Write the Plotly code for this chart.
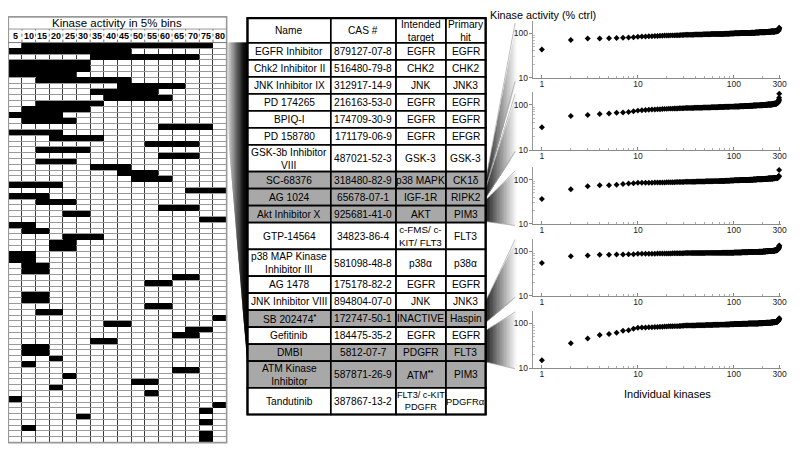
import plotly.graph_objects as go

# The page puts the figure 8 px in from the top-left corner, so the figure is
# sized to the remaining window and reference pixel positions are shifted by 8 px.
OFF = 8
W, H = 800 - OFF, 455 - OFF

# ---------------- data ----------------
bin_labels = [5, 10, 15, 20, 25, 30, 35, 40, 45, 50, 55, 60, 65, 70, 75, 80]
# first / last 5% bin that is filled (black) for each compound row of the heat map
row_first_bin = [10, 5, 35, 5, 5, 5, 15, 45, 35, 40, 15, 10, 5, 10, 60, 5, 20, 55, 15, 60,
                 15, 35, 45, 50, 5, 70, 5, 15, 60, 25, 75, 5, 10, 25, 20, 20, 5, 5, 10, 10,
                 65, 55, None, 10, 10, 55, 15, 80, 40, 70, 65, 35, 10, 10, 20, 10, 65, 25, 50, 20,
                 55, 5, 80, 75, 30, 75, 10, 75, 75]
row_last_bin = [75, 45, 70, 30, 30, 25, 45, 65, 55, 60, 35, 30, 20, 25, 75, 20, 35, 70, 30, 70,
                25, 45, 55, 60, 20, 80, 15, 25, 70, 30, 80, 10, 15, 35, 25, 25, 10, 10, 15, 15,
                70, 60, None, 15, 15, 60, 20, 80, 45, 75, 70, 40, 15, 15, 20, 10, 70, 25, 55, 20,
                55, 5, 80, 75, 30, 75, 10, 75, 75]

tbl_header = ["Name", "CAS #", "Intended<br>target", "Primary<br>hit"]
names = ["EGFR Inhibitor", "Chk2 Inhibitor II", "JNK Inhibitor IX", "PD 174265", "BPIQ-I",
         "PD 158780", "GSK-3b Inhibitor<br>VIII", "SC-68376", "AG 1024", "Akt Inhibitor X",
         "GTP-14564", "p38 MAP Kinase<br>Inhibitor III", "AG 1478", "JNK Inhibitor VIII",
         "SB 202474<sup><b>*</b></sup>", "Gefitinib", "DMBI", "ATM Kinase<br>Inhibitor", "Tandutinib"]
cas_numbers = ["879127-07-8", "516480-79-8", "312917-14-9", "216163-53-0", "174709-30-9",
               "171179-06-9", "487021-52-3", "318480-82-9", "65678-07-1", "925681-41-0",
               "34823-86-4", "581098-48-8", "175178-82-2", "894804-07-0", "172747-50-1",
               "184475-35-2", "5812-07-7", "587871-26-9", "387867-13-2"]
intended_targets = ["EGFR", "CHK2", "JNK", "EGFR", "EGFR", "EGFR", "GSK-3", "p38 MAPK", "IGF-1R",
                    "AKT", "c-FMS/ c-<br>KIT/ FLT3", "p38α", "EGFR", "JNK", "INACTIVE", "EGFR",
                    "PDGFR", "ATM<sup><b>**</b></sup>", "FLT3/ c-KIT<br>PDGFR"]
primary_hits = ["EGFR", "CHK2", "JNK3", "EGFR", "EGFR", "EFGR", "GSK-3", "CK1δ", "RIPK2", "PIM3",
                "FLT3", "p38α", "EGFR", "JNK3", "Haspin", "EGFR", "FLT3", "PIM3", "PDGFRα"]
highlighted = [False, False, False, False, False, False, False, True, True, True,
               False, False, False, False, True, False, True, True, False]

# ranked kinase activity (% ctrl) per profiled compound: first ten ranks, then (value, count) runs
p1_head = [43, 70, 76, 76, 77, 78, 79, 80, 81, 83]
p1_runs = [(84, 2), (85, 2), (86, 2), (87, 2), (88, 3), (89, 3), (90, 3), (91, 3),
           (92, 8), (93, 9), (94, 10), (95, 11), (96, 11), (97, 11), (98, 10),
           (99, 16), (100, 17), (101, 17), (102, 17), (103, 17), (104, 16),
           (105, 14), (106, 14), (107, 14), (108, 14), (109, 12), (110, 12),
           (111, 3), (112, 3), (113, 2), (114, 2), (116, 2), (119, 1), (122, 1), (125, 1), (128, 1), (131, 1)]
p2_head = [32, 57, 60, 63, 65, 67, 68, 70, 73, 75]
p2_runs = [(76, 1), (77, 1), (78, 1), (79, 2), (80, 2), (81, 1), (82, 2), (83, 3), (84, 3), (85, 4),
           (86, 8), (87, 9), (88, 10), (89, 11), (90, 11), (91, 11), (92, 10),
           (93, 14), (94, 14), (95, 15), (96, 15), (97, 14), (98, 14), (99, 14),
           (100, 12), (101, 12), (102, 12), (103, 11), (104, 11), (106, 11), (108, 11),
           (110, 3), (112, 3), (114, 2), (117, 2), (120, 2), (124, 1), (127, 1), (132, 1), (145, 1), (177, 1)]
p3_head = [36, 60, 70, 74, 74, 76, 79, 81, 82, 84]
p3_runs = [(85, 4), (86, 5), (87, 5), (88, 6),
           (89, 10), (90, 10), (91, 10), (92, 10), (93, 10), (94, 10), (95, 10),
           (96, 15), (97, 15), (98, 14), (99, 14), (100, 14), (101, 14), (102, 14),
           (103, 14), (104, 14), (105, 13), (106, 13), (107, 13), (108, 13),
           (109, 3), (110, 3), (111, 2), (113, 2), (115, 2), (118, 2), (121, 1), (165, 1), (198, 1)]
p4_head = [55, 78, 81, 84, 84, 85, 85, 87, 87, 89]
p4_runs = [(89, 5), (90, 7), (91, 8), (92, 20), (93, 25), (94, 25),
           (95, 20), (96, 20), (97, 20), (98, 20), (99, 20),
           (100, 14), (101, 14), (102, 13), (103, 13), (104, 13), (106, 13),
           (108, 3), (110, 3), (112, 2), (115, 2), (118, 2), (122, 2), (127, 1), (132, 1), (137, 1)]
p5_head = [15, 36, 46, 55, 58, 62, 69, 70, 76, 80]
p5_runs = [(81, 2), (82, 2), (83, 2), (84, 2), (85, 2), (86, 3), (87, 3), (88, 2), (89, 2),
           (90, 10), (91, 10), (92, 10), (93, 10), (94, 10), (95, 10), (96, 10),
           (97, 20), (98, 20), (99, 20), (100, 20), (101, 20),
           (102, 14), (103, 14), (104, 13), (105, 13), (106, 13), (108, 13),
           (110, 3), (112, 3), (114, 2), (116, 2), (118, 2), (121, 2), (124, 1), (127, 1), (130, 1)]

x_tick_vals = [1, 10, 100, 300]
y_tick_vals = [10, 100]

# ---------------- helpers ----------------
def px(x):
    return (x - OFF) / W


def py(y):
    return 1 - (y - OFF) / H


def path(pts):
    return "M " + " L ".join(f"{px(x):.5f},{py(y):.5f}" for x, y in pts) + " Z"


FONT = "Arial, Liberation Sans, Helvetica, sans-serif"
fig = go.Figure()
shapes = []
annotations = []

# ---------------- heat map ----------------
n_rows = len(row_first_bin)
z = []
for r in range(n_rows):
    row = []
    for b in bin_labels:
        f, l = row_first_bin[r], row_last_bin[r]
        row.append(1 if (f is not None and f <= b <= l) else None)
    z.append(row)

fig.add_trace(go.Heatmap(z=z, x=bin_labels, y=list(range(n_rows)),
                         colorscale=[[0, "black"], [1, "black"]], zmin=0, zmax=1,
                         showscale=False, hoverinfo="skip", xaxis="x", yaxis="y"))

hm_x0, hm_x1, hm_top, hm_y0, hm_y1 = 8.3, 228.3, 17, 43, 447.5
fig.update_layout(
    xaxis=dict(domain=[px(hm_x0), px(hm_x1)], range=[2.5, 82.5], showgrid=True,
               gridcolor="#3a3a3a", gridwidth=1, tick0=2.5, dtick=5, showticklabels=False,
               zeroline=False, ticks="", fixedrange=True),
    yaxis=dict(domain=[py(hm_y1), py(hm_y0)], range=[n_rows - 0.5, -0.5], showgrid=True,
               gridcolor="#9a9a9a", gridwidth=1, tick0=-0.5, dtick=1, showticklabels=False,
               zeroline=False, ticks="", fixedrange=True),
)
# header box
shapes.append(dict(type="rect", xref="paper", yref="paper", x0=px(hm_x0), x1=px(hm_x1),
                   y0=py(hm_y1), y1=py(hm_top), line=dict(color="#999999", width=1.6)))
shapes.append(dict(type="line", xref="paper", yref="paper", x0=px(hm_x0), x1=px(hm_x1),
                   y0=py(29.3), y1=py(29.3), line=dict(color="#999999", width=1)))
shapes.append(dict(type="line", xref="paper", yref="paper", x0=px(hm_x0), x1=px(hm_x1),
                   y0=py(hm_y0), y1=py(hm_y0), line=dict(color="#777777", width=1)))
for b in bin_labels[1:]:
    shapes.append(dict(type="line", xref="x", yref="paper", x0=b - 2.5, x1=b - 2.5,
                       y0=py(hm_y0), y1=py(29.3), line=dict(color="#777777", width=1, dash="dot")))
for b in bin_labels:
    annotations.append(dict(xref="x", yref="paper", x=b, y=py(36.3), text=f"<b>{b}</b>",
                            showarrow=False, font=dict(family=FONT, size=9, color="black"),
                            xanchor="center", yanchor="middle"))
annotations.append(dict(xref="paper", yref="paper", x=px((7.3 + hm_x1) / 2), y=py(23.3),
                        text="Kinase activity in 5% bins", showarrow=False,
                        font=dict(family=FONT, size=11.5, color="black"),
                        xanchor="center", yanchor="middle"))

# left gradient wedge (heat map -> table)
def left_edge_y(x):
    if x <= 230:
        return 43 + (x - 229) * 97
    return 140 + (x - 230) / 19.5 * 232

n_strip = 24
for i in range(n_strip):
    xa = 229 + 20.5 * i / n_strip
    xb = min(249.5, 229 + 20.5 * (i + 1) / n_strip + 0.6)
    t = (i + 0.5) / n_strip
    g = int(225 * max(0.0, 1 - t * 1.15) ** 1.1)
    shapes.append(dict(type="path", xref="paper", yref="paper",
                       path=path([(xa, 43), (xb, 43), (xb, left_edge_y(xb)), (xa, left_edge_y(xa))]),
                       fillcolor=f"rgb({g},{g},{g})", line=dict(width=0), layer="below"))

# ---------------- table (drawn cell by cell) ----------------
col_edges = [249.3, 333.3, 399.0, 449.3, 489.3]
tbl_top = 18.3
header_h, single_h, double_h = 25.0, 17.2, 27.0
columns = [names, cas_numbers, intended_targets, primary_hits]
BORDER = dict(color="black", width=1.7)
small_text = {"FLT3/ c-KIT<br>PDGFR": 9.2, "PDGFRα": 9.4, "c-FMS/ c-<br>KIT/ FLT3": 9.8}


def cell(x0, x1, y0, y1, fill, text):
    shapes.append(dict(type="rect", xref="paper", yref="paper", x0=px(x0), x1=px(x1),
                       y0=py(y1), y1=py(y0), fillcolor=fill, line=BORDER, layer="above"))
    size = small_text.get(text, 10.2)
    annotations.append(dict(xref="paper", yref="paper", x=px((x0 + x1) / 2), y=py((y0 + y1) / 2 + 0.3),
                            text=text, showarrow=False, xanchor="center", yanchor="middle",
                            font=dict(family=FONT, size=size, color="black")))


y = tbl_top
for c in range(4):
    cell(col_edges[c], col_edges[c + 1], y, y + header_h, "white", tbl_header[c])
y += header_h
for r in range(len(names)):
    n_lines = max(col[r].count("<br>") + 1 for col in columns)
    h = single_h if n_lines == 1 else double_h
    fill = "#a8a8a8" if highlighted[r] else "white"
    for c in range(4):
        cell(col_edges[c], col_edges[c + 1], y, y + h, fill, columns[c][r])
    y += h
shapes.append(dict(type="rect", xref="paper", yref="paper", x0=px(col_edges[0]), x1=px(col_edges[-1]),
                   y0=py(y), y1=py(tbl_top), line=dict(color="black", width=2.2), layer="above"))

# ---------------- ranked scatter panels ----------------
panels = [(p1_head, p1_runs), (p2_head, p2_runs), (p3_head, p3_runs), (p4_head, p4_runs), (p5_head, p5_runs)]
panel_px = [(20.7, 78.7), (93.3, 151.7), (169.0, 226.0), (241.7, 299.0), (314.3, 372.3)]
sx0, sx1 = 536.7, 787.0
minor_x = [2, 3, 4, 5, 6, 7, 8, 9, 20, 30, 40, 50, 60, 70, 80, 90, 200]
minor_y = [20, 30, 40, 50, 60, 70, 80, 90]
for k, ((head, runs), (top, bot)) in enumerate(zip(panels, panel_px)):
    vals = list(head)
    for v, c in runs:
        vals += [v] * c
    xs = list(range(1, len(vals) + 1))
    ax = k + 2
    fig.add_trace(go.Scatter(x=xs, y=vals, mode="markers", xaxis=f"x{ax}", yaxis=f"y{ax}",
                             marker=dict(symbol="diamond", size=4.6, color="black", line=dict(width=0)),
                             hoverinfo="skip", cliponaxis=False))
    fig.layout[f"xaxis{ax}"] = dict(
        domain=[px(sx0), px(sx1)], type="log", range=[-0.096, 2.492], anchor=f"y{ax}",
        showline=True, linecolor="#8a8a8a", linewidth=1, showgrid=False, zeroline=False,
        tickvals=x_tick_vals, ticktext=[str(v) for v in x_tick_vals], ticks="inside", ticklen=3,
        tickcolor="#8a8a8a", tickfont=dict(family=FONT, size=8.5, color="#222"),
        ticklabelstandoff=-2,
        minor=dict(tickvals=minor_x, ticks="inside", ticklen=2, tickcolor="#aaaaaa"),
        fixedrange=True)
    fig.layout[f"yaxis{ax}"] = dict(
        domain=[py(bot), py(top)], type="log", range=[1, 2.28], anchor=f"x{ax}",
        showline=True, linecolor="#9a9a9a", linewidth=1, showgrid=False, zeroline=False,
        tickvals=y_tick_vals, ticktext=[str(v) for v in y_tick_vals], ticks="outside", ticklen=3,
        tickcolor="#8a8a8a", tickfont=dict(family=FONT, size=8.5, color="#222"),
        ticklabelstandoff=-1,
        minor=dict(tickvals=minor_y, ticks="inside", ticklen=2, tickcolor="#bbbbbb"),
        fixedrange=True)

annotations.append(dict(xref="paper", yref="paper", x=px(493), y=py(8.5), text="Kinase activity (% ctrl)",
                        showarrow=False, xanchor="left", yanchor="top", borderpad=0,
                        font=dict(family=FONT, size=10.8, color="black")))
annotations.append(dict(xref="paper", yref="paper", x=px(673), y=py(398.5), text="Individual kinases",
                        showarrow=False, xanchor="center", yanchor="middle",
                        font=dict(family=FONT, size=11, color="black")))

# right gradient wedges (table rows -> panels): (left top, left bottom, right top, right bottom)
wedges = [(181, 190, 20, 80), (190, 200, 93, 152), (202, 224, 172, 228),
          (304, 326, 241, 300), (334, 366, 315, 373)]
wx0, wx1 = 489.5, 521.0
for (lt, lb, rt, rb) in wedges:
    ns = 22
    for i in range(ns):
        ta = i / ns
        tb = min(1.0, (i + 1) / ns + 0.6 / (wx1 - wx0))
        xa, xb = wx0 + (wx1 - wx0) * ta, wx0 + (wx1 - wx0) * tb
        t = (i + 0.5) / ns
        g = int(25 + 230 * t ** 0.85)
        pts = [(xa, lt + (rt - lt) * ta), (xb, lt + (rt - lt) * tb),
               (xb, lb + (rb - lb) * tb), (xa, lb + (rb - lb) * ta)]
        shapes.append(dict(type="path", xref="paper", yref="paper", path=path(pts),
                           fillcolor=f"rgb({g},{g},{g})", line=dict(width=0), layer="below"))
    for (a, b) in [(lt, rt), (lb, rb)]:
        shapes.append(dict(type="line", xref="paper", yref="paper", x0=px(wx0), x1=px(wx1 - 2),
                           y0=py(a), y1=py(b + (a - b) * 0.02), line=dict(color="#a0a0a0", width=0.7),
                           layer="below"))

fig.update_layout(width=W, height=H, margin=dict(l=0, r=0, t=0, b=0), autosize=False,
                  paper_bgcolor="white", plot_bgcolor="rgba(0,0,0,0)", showlegend=False,
                  shapes=shapes, annotations=annotations,
                  font=dict(family=FONT, size=10, color="black"))

fig.write_html("out.html")
